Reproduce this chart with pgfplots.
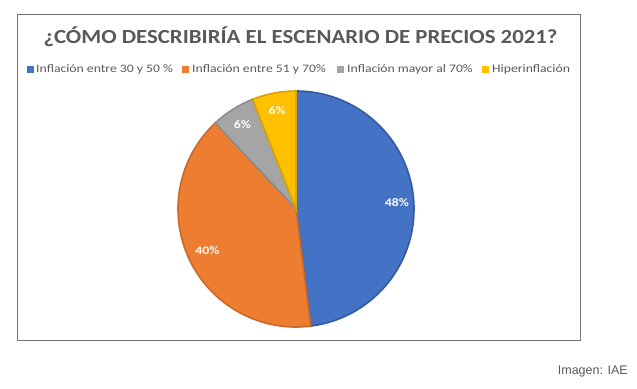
\documentclass[border=0pt]{standalone}
\usepackage{pgfplots}
\pgfplotsset{compat=1.18}
\usetikzlibrary{calc}
\usepackage{graphicx}
\usepackage{fontspec}
\setmainfont{Carlito}
\newfontfamily\imgfont{Liberation Sans}
\definecolor{pblue}{HTML}{4472C4}
\definecolor{porange}{HTML}{ED7D31}
\definecolor{pgray}{HTML}{A5A5A5}
\definecolor{pyellow}{HTML}{FFC000}
\definecolor{txt}{HTML}{595959}
\newcommand{\legtxt}[1]{\scalebox{1.19}[1]{#1}}
\begin{document}
\begin{tikzpicture}
\begin{axis}[scale only axis, width=637bp, height=389bp, hide axis,
  xmin=0, xmax=637, ymin=0, ymax=389, y dir=reverse, clip=false]
\path (axis cs:0,0) rectangle (axis cs:637,389);
% frame
\draw[black!55, line width=0.9bp] (axis cs:17,14) rectangle (axis cs:580,340);
% title
\node[text=txt, font=\fontsize{20bp}{24bp}\selectfont\bfseries] at (axis cs:300.5,37) {\scalebox{1.14}[1]{¿CÓMO DESCRIBIRÍA EL ESCENARIO DE PRECIOS 2021?}};
% legend
\begin{scope}[every node/.style={text=txt, font=\fontsize{11.5bp}{13bp}\selectfont, anchor=west, inner sep=0pt}]
\fill[pblue] (axis cs:26.5,65.5) rectangle (axis cs:33.5,72.5);
\node at (axis cs:36,69) {\legtxt{Inflación entre 30 y 50 \%}};
\fill[porange] (axis cs:181.5,65.5) rectangle (axis cs:188.5,72.5);
\node at (axis cs:192,69) {\legtxt{Inflación entre 51 y 70\%}};
\fill[pgray] (axis cs:336.5,65.5) rectangle (axis cs:343.5,72.5);
\node at (axis cs:347,69) {\legtxt{Inflación mayor al 70\%}};
\fill[pyellow] (axis cs:481.5,65.5) rectangle (axis cs:488.5,72.5);
\node at (axis cs:492,69) {\legtxt{Hiperinflación}};
\end{scope}
% pie: values 48, 40, 6, 6 (percent), clockwise from top
\filldraw[fill=pblue, draw=pblue!80!black, line width=1.6bp] (axis cs:296,209) -- ++(90:118bp) arc[start angle=90, end angle={90-48*3.6}, radius=118bp] -- cycle;
\filldraw[fill=porange, draw=porange!85!black, line width=1.6bp] (axis cs:296,209) -- ++({90-48*3.6}:118bp) arc[start angle={90-48*3.6}, end angle={90-88*3.6}, radius=118bp] -- cycle;
\filldraw[fill=pgray, draw=pgray!85!black, line width=1.6bp] (axis cs:296,209) -- ++({90-88*3.6}:118bp) arc[start angle={90-88*3.6}, end angle={90-94*3.6}, radius=118bp] -- cycle;
\filldraw[fill=pyellow, draw=pyellow!85!black, line width=1.6bp] (axis cs:296,209) -- ++({90-94*3.6}:118bp) arc[start angle={90-94*3.6}, end angle={90-100*3.6}, radius=118bp] -- cycle;
% labels
\begin{scope}[every node/.style={text=white, font=\fontsize{11.5bp}{13bp}\selectfont\bfseries}]
\node at ($(axis cs:296,209)+({90-24*3.6}:101bp)$) {\scalebox{1.2}[1]{48\%}};
\node at ($(axis cs:296,209)+({90-68*3.6}:98bp)$) {\scalebox{1.2}[1]{40\%}};
\node at ($(axis cs:296,209)+({90-91*3.6}:100bp)$) {\scalebox{1.2}[1]{6\%}};
\node at ($(axis cs:296,209)+({90-97*3.6}:100bp)$) {\scalebox{1.2}[1]{6\%}};
\end{scope}
% source
\node[anchor=east, text=black!65, font=\imgfont\fontsize{12.5bp}{14bp}\selectfont, inner sep=0pt] at (axis cs:628,371) {Imagen: IAE};
\end{axis}
\end{tikzpicture}
\end{document}
